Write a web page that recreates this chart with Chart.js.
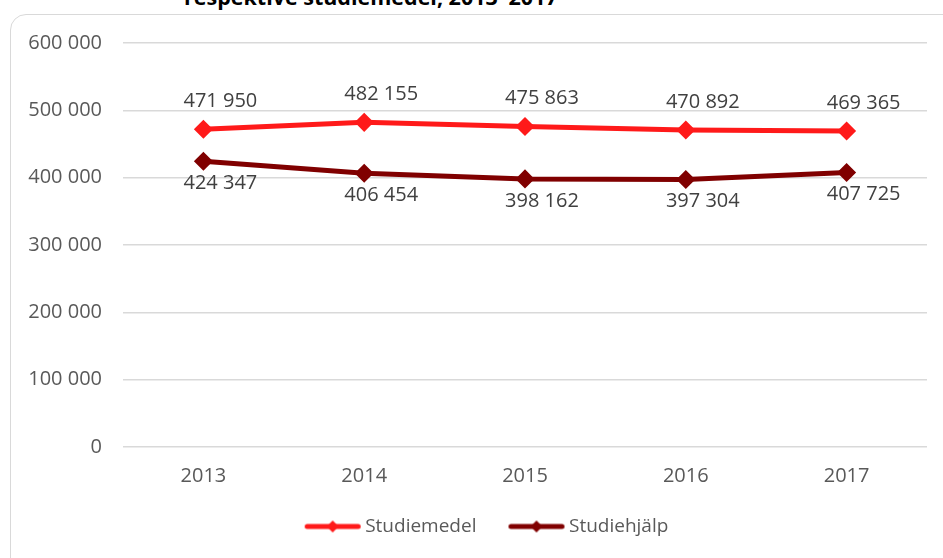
<!DOCTYPE html>
<html lang="sv">
<head>
<meta charset="UTF-8">
<title>Studiehjälp och studiemedel 2013–2017</title>
<script src="https://cdn.jsdelivr.net/npm/chart.js@4.4.0/dist/chart.umd.min.js"></script>
<style>
    body {
        margin: 0;
        width: 943px;
        height: 558px;
        overflow: hidden;
        position: relative;
        background: #fff;
        font-family: 'Open Sans', sans-serif;
    }
    .title {
        position: absolute;
        top: -18px;
        left: 184px;
        font-weight: bold;
        font-size: 21.5px;
        color: #000;
        white-space: nowrap;
    }
    .frame {
        position: absolute;
        left: 10px;
        top: 14px;
        width: 960px;
        height: 580px;
        border: 1.5px solid #d9d9d9;
        border-radius: 16px;
    }
    .wrap {
        position: absolute;
        left: 0;
        top: 0;
        width: 943px;
        height: 558px;
    }
</style>
</head>
<body>
<div class="title">respektive studiemedel, 2013–2017</div>
<div class="frame"></div>
<div class="wrap"><canvas id="chart"></canvas></div>

<script>
// data
const years = ['2013', '2014', '2015', '2016', '2017'];
const studiemedel = [471950, 482155, 475863, 470892, 469365];
const studiehjalp = [424347, 406454, 398162, 397304, 407725];
const seriesNames = ['Studiemedel', 'Studiehjälp'];
const yMax = 600000;
const yStep = 100000;

const FONT = "'Open Sans', sans-serif";

function fmt(v) {
    return String(v).replace(/\B(?=(\d{3})+(?!\d))/g, ' ');
}

// legend marker: thick line with a diamond, drawn at the right end of the
// image so it sits close to the text
function legendIcon(color) {
    const c = document.createElement('canvas');
    c.width = 67;
    c.height = 16;
    const g = c.getContext('2d');
    g.strokeStyle = color;
    g.lineWidth = 5;
    g.lineCap = 'round';
    g.beginPath();
    g.moveTo(11.5, 8);
    g.lineTo(62.5, 8);
    g.stroke();
    g.fillStyle = color;
    g.beginPath();
    g.moveTo(37, 2);
    g.lineTo(43, 8);
    g.lineTo(37, 14);
    g.lineTo(31, 8);
    g.closePath();
    g.fill();
    return c;
}

// value labels next to each point
const valueLabels = {
    id: 'valueLabels',
    afterDatasetsDraw(chart) {
        const ctx = chart.ctx;
        ctx.save();
        ctx.font = '20px ' + FONT;
        ctx.fillStyle = '#404040';
        ctx.textAlign = 'center';
        ctx.textBaseline = 'middle';
        chart.data.datasets.forEach((ds, i) => {
            const meta = chart.getDatasetMeta(i);
            meta.data.forEach((pt, j) => {
                ctx.fillText(fmt(ds.data[j]), pt.x + 17, pt.y + ds.labelDy);
            });
        });
        ctx.restore();
    }
};

// the legend sits a bit right of centre in the original
const legendShift = {
    id: 'legendShift',
    afterLayout(chart) {
        chart.legend.left += 22;
        chart.legend.right += 22;
    }
};

const colors = ['#ff1a1a', '#800000'];

new Chart(document.getElementById('chart'), {
    type: 'line',
    data: {
        labels: years,
        datasets: [{
            label: seriesNames[0],
            data: studiemedel,
            borderColor: colors[0],
            backgroundColor: colors[0],
            borderWidth: 5,
            pointStyle: 'rectRot',
            pointRadius: 6,
            pointHoverRadius: 6,
            labelDy: -28
        }, {
            label: seriesNames[1],
            data: studiehjalp,
            borderColor: colors[1],
            backgroundColor: colors[1],
            borderWidth: 5,
            pointStyle: 'rectRot',
            pointRadius: 6,
            pointHoverRadius: 6,
            labelDy: 22
        }]
    },
    options: {
        responsive: true,
        maintainAspectRatio: false,
        animation: false,
        layout: {
            padding: { left: 0, top: 43, right: 16, bottom: 12 }
        },
        scales: {
            x: {
                offset: true,
                grid: { display: false, drawTicks: false },
                border: { display: false },
                ticks: {
                    padding: 17,
                    color: '#595959',
                    font: { family: FONT, size: 20 }
                },
                afterFit(scale) { scale.height = 40; }
            },
            y: {
                min: 0,
                max: yMax,
                grid: { color: '#d9d9d9', lineWidth: 1.5, drawTicks: false },
                border: { display: false },
                ticks: {
                    stepSize: yStep,
                    padding: 21,
                    color: '#595959',
                    font: { family: FONT, size: 20 },
                    callback: v => fmt(v)
                },
                afterFit(scale) { scale.width = 123; }
            }
        },
        plugins: {
            tooltip: { enabled: false },
            legend: {
                position: 'bottom',
                labels: {
                    usePointStyle: true,
                    pointStyleWidth: 53,
                    padding: 30,
                    color: '#595959',
                    font: { family: FONT, size: 19 },
                    generateLabels(chart) {
                        return chart.data.datasets.map((ds, i) => ({
                            text: ds.label,
                            pointStyle: legendIcon(colors[i]),
                            fontColor: '#595959',
                            strokeStyle: colors[i],
                            fillStyle: colors[i],
                            lineWidth: 0,
                            hidden: false,
                            datasetIndex: i
                        }));
                    }
                }
            }
        }
    },
    plugins: [valueLabels, legendShift]
});
</script>
</body>
</html>
